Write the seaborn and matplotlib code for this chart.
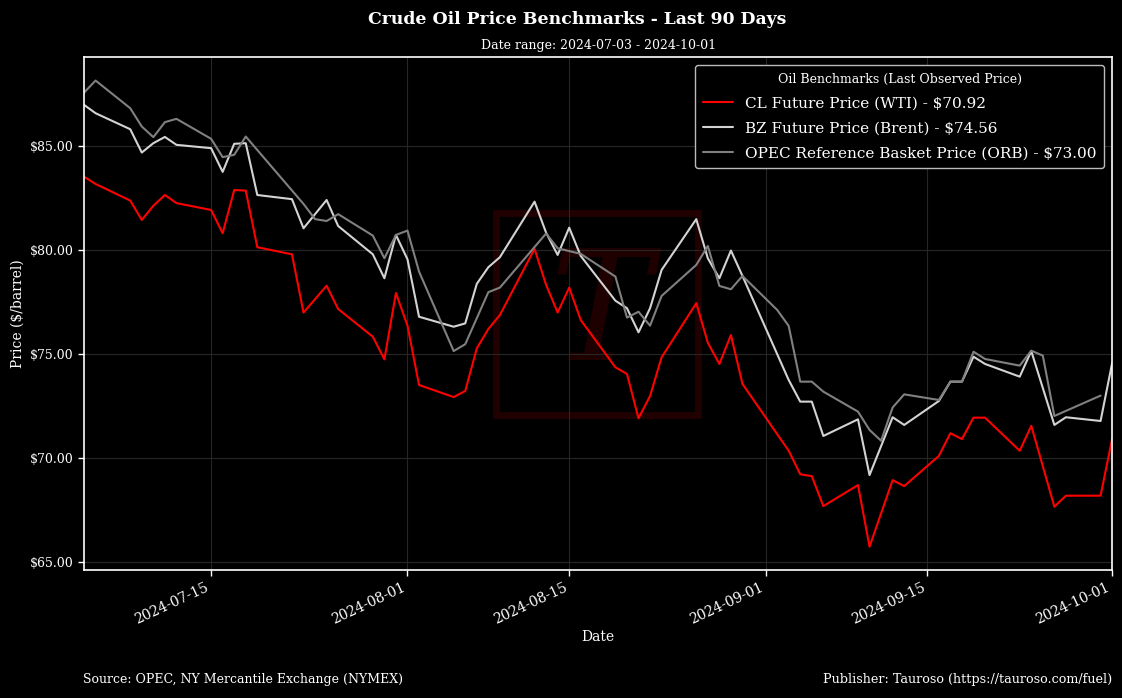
import pandas as pd
import matplotlib
matplotlib.use("Agg")
import matplotlib.pyplot as plt
import matplotlib.dates as mdates
import matplotlib.ticker as mticker
from matplotlib.patches import Rectangle
import seaborn as sns

# ==========================================
# データ
# ==========================================
futures_dates = [
    "2024-07-04", "2024-07-05", "2024-07-08", "2024-07-09", "2024-07-10", "2024-07-11",
    "2024-07-12", "2024-07-15", "2024-07-16", "2024-07-17", "2024-07-18", "2024-07-19",
    "2024-07-22", "2024-07-23", "2024-07-25", "2024-07-26", "2024-07-29", "2024-07-30",
    "2024-07-31", "2024-08-01", "2024-08-02", "2024-08-05", "2024-08-06", "2024-08-07",
    "2024-08-08", "2024-08-09", "2024-08-12", "2024-08-13", "2024-08-14", "2024-08-15",
    "2024-08-16", "2024-08-19", "2024-08-20", "2024-08-21", "2024-08-22", "2024-08-23",
    "2024-08-26", "2024-08-27", "2024-08-28", "2024-08-29", "2024-08-30", "2024-09-03",
    "2024-09-04", "2024-09-05", "2024-09-06", "2024-09-09", "2024-09-10", "2024-09-12",
    "2024-09-13", "2024-09-16", "2024-09-17", "2024-09-18", "2024-09-19", "2024-09-20",
    "2024-09-23", "2024-09-24", "2024-09-26", "2024-09-27", "2024-09-30", "2024-10-01",
]
wti_prices = [
    83.52, 83.17, 82.37, 81.44, 82.12, 82.64, 82.25, 81.92, 80.80, 82.88, 82.85, 80.13,
    79.79, 76.99, 78.28, 77.16, 75.83, 74.74, 77.93, 76.36, 73.51, 72.93, 73.22, 75.27,
    76.20, 76.87, 80.05, 78.32, 76.99, 78.19, 76.63, 74.36, 74.04, 71.91, 72.98, 74.84,
    77.44, 75.54, 74.52, 75.91, 73.56, 70.35, 69.22, 69.13, 67.69, 68.70, 65.74, 68.94,
    68.65, 70.10, 71.19, 70.91, 71.94, 71.94, 70.35, 71.55, 67.66, 68.19, 68.19, 70.92,
]
brent_prices = [
    86.97, 86.57, 85.80, 84.68, 85.13, 85.43, 85.05, 84.89, 83.75, 85.10, 85.13, 82.64,
    82.44, 81.04, 82.40, 81.15, 79.79, 78.64, 80.72, 79.55, 76.79, 76.31, 76.47, 78.37,
    79.17, 79.65, 82.32, 80.83, 79.76, 81.07, 79.71, 77.56, 77.20, 76.04, 77.20, 79.04,
    81.48, 79.60, 78.64, 79.97, 78.75, 73.75, 72.71, 72.71, 71.06, 71.86, 69.18, 71.96,
    71.59, 72.74, 73.67, 73.67, 74.87, 74.52, 73.91, 75.14, 71.59, 71.96, 71.78, 74.56,
]
orb_dates = [
    "2024-07-04", "2024-07-05", "2024-07-08", "2024-07-09", "2024-07-10", "2024-07-11",
    "2024-07-12", "2024-07-15", "2024-07-16", "2024-07-17", "2024-07-18", "2024-07-23",
    "2024-07-24", "2024-07-25", "2024-07-26", "2024-07-29", "2024-07-30", "2024-07-31",
    "2024-08-01", "2024-08-02", "2024-08-05", "2024-08-06", "2024-08-08", "2024-08-09",
    "2024-08-13", "2024-08-14", "2024-08-16", "2024-08-19", "2024-08-20", "2024-08-21",
    "2024-08-22", "2024-08-23", "2024-08-26", "2024-08-27", "2024-08-28", "2024-08-29",
    "2024-08-30", "2024-09-02", "2024-09-03", "2024-09-04", "2024-09-05", "2024-09-06",
    "2024-09-09", "2024-09-10", "2024-09-11", "2024-09-12", "2024-09-13", "2024-09-16",
    "2024-09-17", "2024-09-18", "2024-09-19", "2024-09-20", "2024-09-23", "2024-09-24",
    "2024-09-25", "2024-09-26", "2024-09-30",
]
orb_prices = [
    87.56, 88.14, 86.81, 85.93, 85.42, 86.14, 86.30, 85.34, 84.46, 84.57, 85.45, 82.21,
    81.48, 81.39, 81.72, 80.69, 79.60, 80.72, 80.93, 78.96, 75.14, 75.47, 77.97, 78.19,
    80.79, 80.08, 79.81, 78.72, 76.75, 77.03, 76.36, 77.79, 79.28, 80.19, 78.27, 78.11,
    78.75, 77.12, 76.35, 73.67, 73.67, 73.19, 72.23, 71.35, 70.83, 72.43, 73.06, 72.79,
    73.67, 73.67, 75.11, 74.76, 74.44, 75.16, 74.92, 72.02, 73.00,
]

wti_label = f"CL Future Price (WTI) - ${wti_prices[-1]:.2f}"
brent_label = f"BZ Future Price (Brent) - ${brent_prices[-1]:.2f}"
orb_label = f"OPEC Reference Basket Price (ORB) - ${orb_prices[-1]:.2f}"

df = pd.concat([
    pd.DataFrame({"Date": pd.to_datetime(futures_dates), "Price": wti_prices, "Benchmark": wti_label}),
    pd.DataFrame({"Date": pd.to_datetime(futures_dates), "Price": brent_prices, "Benchmark": brent_label}),
    pd.DataFrame({"Date": pd.to_datetime(orb_dates), "Price": orb_prices, "Benchmark": orb_label}),
], ignore_index=True)

palette = {wti_label: "#ff0000", brent_label: "#d3d3d3", orb_label: "#808080"}

# ==========================================
# スタイル
# ==========================================
sns.set_theme(style="darkgrid", rc={
    "figure.facecolor": "black",
    "axes.facecolor": "black",
    "axes.edgecolor": "white",
    "axes.linewidth": 1.2,
    "axes.labelcolor": "white",
    "grid.color": "#262626",
    "grid.linewidth": 0.8,
    "text.color": "white",
    "xtick.color": "white",
    "ytick.color": "white",
    "xtick.bottom": True,
    "ytick.left": True,
})
plt.rcParams["font.family"] = ["DejaVu Serif", "DejaVu Sans"]

fig = plt.figure(figsize=(11.22, 6.98), dpi=100)
ax = fig.add_axes([0.0749, 0.1834, 0.9163, 0.7346])

# watermark (behind the lines)
ax.add_patch(Rectangle((0.4425, 0.405), 0.180, 0.290, transform=fig.transFigure,
                       fill=False, edgecolor="#200000", linewidth=5, zorder=0.5))
ax.text(0.535, 0.545, "T", transform=fig.transFigure, fontsize=110, style="italic",
        color="#1e0000", ha="center", va="center", zorder=0.5)

sns.lineplot(data=df, x="Date", y="Price", hue="Benchmark", palette=palette,
             linewidth=1.5, ax=ax, zorder=2)

ax.set_xlim(df["Date"].min(), df["Date"].max())
ax.yaxis.set_major_locator(mticker.MultipleLocator(5))
ax.yaxis.set_major_formatter(mticker.FuncFormatter(lambda v, p: f"${v:.2f}"))
ax.xaxis.set_major_locator(mdates.DayLocator(bymonthday=[1, 15]))
ax.xaxis.set_major_formatter(mdates.DateFormatter("%Y-%m-%d"))
plt.setp(ax.get_xticklabels(), rotation=25, ha="right", fontsize=10)
plt.setp(ax.get_yticklabels(), fontsize=9)
ax.tick_params(axis="both", length=4, width=1, colors="white")
for s in ax.spines.values():
    s.set_color("white")

ax.set_xlabel("Date", fontsize=10, labelpad=2)
ax.set_ylabel("Price ($/barrel)", fontsize=10)

leg = ax.legend(title="Oil Benchmarks (Last Observed Price)", loc="upper right",
                fontsize=11, title_fontsize=9, facecolor="black", edgecolor="#bbbbbb",
                framealpha=1.0, labelspacing=0.72, borderpad=0.5, handletextpad=0.8)
for t in leg.get_texts():
    t.set_color("white")
leg.get_title().set_color("white")

fig.text(0.514, 0.972, "Crude Oil Price Benchmarks - Last 90 Days", ha="center", va="center",
         fontsize=12.4, fontweight="bold")
ax.set_title("Date range: 2024-07-03 - 2024-10-01", fontsize=9, pad=6)
fig.text(0.074, 0.027, "Source: OPEC, NY Mercantile Exchange (NYMEX)", ha="left",
         va="center", fontsize=9)
fig.text(0.991, 0.027, "Publisher: Tauroso (https://tauroso.com/fuel)", ha="right",
         va="center", fontsize=9.2)

fig.savefig("out.png", dpi=100, facecolor="black")
